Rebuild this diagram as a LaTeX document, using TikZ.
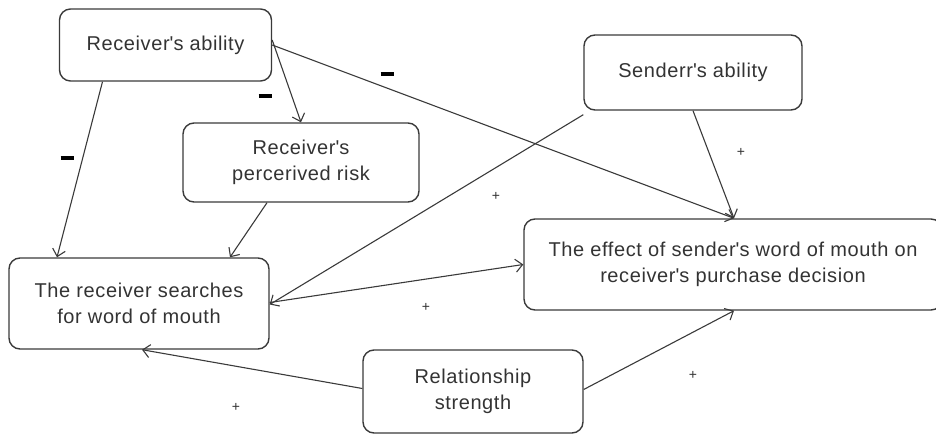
\documentclass[tikz,border=0pt]{standalone}
\usepackage{fontspec}
\setmainfont{Liberation Sans}[LetterSpace=3]
\usetikzlibrary{arrows.meta}
\definecolor{ink}{HTML}{333333}
\definecolor{lineink}{HTML}{3A3A3A}
\newcommand{\apos}{\textquotesingle}
\tikzset{
  box/.style={draw=lineink, line width=1.4pt, rounded corners=11pt, align=center,
    text=ink, font=\fontsize{20}{26}\selectfont, inner sep=0pt},
  conn/.style={draw=lineink, line width=1.1pt, -{Straight Barb[length=7pt,width=13pt,line width=1.1pt]}},
  minus/.style={text=black, inner sep=0pt},
  plus/.style={font=\fontsize{14}{14}\selectfont, text=ink, inner sep=0pt}
}
\begin{document}
\begin{tikzpicture}[x=1pt,y=-1pt]
\useasboundingbox (0,0) rectangle (936,435);
\node[box, minimum width=212pt, minimum height=72pt] (ra) at (165.5,45) {Receiver\apos s ability};
\node[box, minimum width=236pt, minimum height=79pt] (pr) at (301,162.5) {Receiver\apos s\\percerived risk};
\node[box, minimum width=218pt, minimum height=75pt] (sa) at (693,72.5) {Senderr\apos s ability};
\node[box, minimum width=260pt, minimum height=91pt] (rs) at (139,303.5) {The receiver searches\\for word of mouth};
\node[box, minimum width=418pt, minimum height=91pt] (ef) at (733,264.5) {The effect of sender\apos s word of mouth on\\receiver\apos s purchase decision};
\node[box, minimum width=220pt, minimum height=83pt] (rel) at (473,391.5) {Relationship\\strength};

\draw[conn] ([xshift=-63pt]ra.south) -- ([xshift=-82pt]rs.north);
\draw[conn] ([yshift=5pt]ra.east) -- (pr.north);
\draw[conn] (ra.east) -- ([xshift=1pt]ef.north);
\draw[conn] (sa.south) -- ([xshift=1pt]ef.north);
\draw[conn] ([yshift=-4pt]sa.south west) -- ([yshift=-1pt]rs.east);
\draw[conn] ([xshift=-34pt]pr.south) -- ([xshift=91pt]rs.north);
\draw[conn] ([yshift=1pt]rs.east) -- (ef.west);
\draw[conn] ([yshift=3pt]rel.west) -- ([xshift=3pt]rs.south);
\draw[conn] ([yshift=2pt]rel.east) -- ([xshift=1pt]ef.south);

\node[minus] (m1) at (67,158) {\rule{13pt}{3.2pt}};
\node[minus] (m2) at (265,96) {\rule{13pt}{3.2pt}};
\node[minus] (m3) at (387,74) {\rule{13pt}{3.2pt}};

\node[plus] (p1) at (741,152) {+};
\node[plus] (p2) at (496,196) {+};
\node[plus] (p3) at (426,307) {+};
\node[plus] (p4) at (236,407) {+};
\node[plus] (p5) at (693,375) {+};
\end{tikzpicture}
\end{document}
